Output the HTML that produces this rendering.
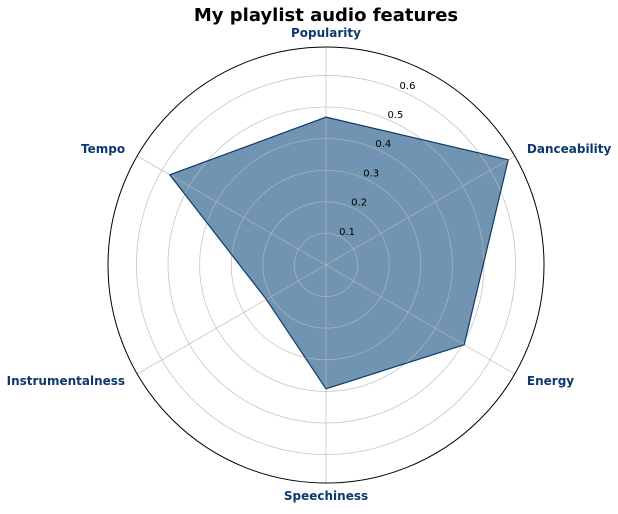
<!DOCTYPE html>
<html><head><meta charset="utf-8"><style>
body{margin:0;background:#fff;font-family:"DejaVu Sans",sans-serif}
</style></head><body>
<svg id="chart" width="618" height="510" xmlns="http://www.w3.org/2000/svg" font-family="DejaVu Sans, sans-serif">
<text x="326" y="21" text-anchor="middle" font-size="18" font-weight="bold">My playlist audio features</text>
<g id="marks"></g><g id="grid"></g><g id="labels"></g>
</svg>
<script>
const categories=["Popularity","Danceability","Energy","Speechiness","Instrumentalness","Tempo"];
const values=[0.468,0.666,0.505,0.392,0.218,0.571];
const rTicks=[0.1,0.2,0.3,0.4,0.5,0.6];
const rMax=0.69;
const cx=326,cy=265,R=218;
const NS="http://www.w3.org/2000/svg";
function rs(v){return v/rMax*R;}
function ang(i){return Math.PI/2-i*2*Math.PI/categories.length;}
function pt(i,v){const a=ang(i);return [cx+rs(v)*Math.cos(a),cy-rs(v)*Math.sin(a)];}
function mk(tag,attrs,parent){const e=document.createElementNS(NS,tag);for(const k in attrs)e.setAttribute(k,attrs[k]);parent.appendChild(e);return e;}
const grid=document.getElementById('grid'),marks=document.getElementById('marks'),labels=document.getElementById('labels');
const pts=values.map((v,i)=>pt(i,v).join(',')).join(' ');
const poly=mk('polygon',{points:pts,fill:'#7094b1',stroke:'none'},marks);


rTicks.forEach(t=>{
 const c=mk('circle',{cx:cx,cy:cy,r:rs(t),fill:'none',stroke:'#b8b8b8','stroke-width':0.8,'stroke-opacity':0.8},grid);
 
 
});
categories.forEach((c,i)=>{
 const p=pt(i,rMax);
 const l=mk('line',{x1:cx,y1:cy,x2:p[0],y2:p[1],stroke:'#b8b8b8','stroke-width':0.8,'stroke-opacity':0.8},grid);
 
 
});
const outline=mk('polygon',{points:pts,fill:'none',stroke:'#0e3a6a','stroke-width':1.2},grid);


const oc=mk('circle',{cx:cx,cy:cy,r:R,fill:'none',stroke:'#000','stroke-width':1},grid);


rTicks.forEach(t=>{
 const a=67.5*Math.PI/180;
 const x=cx+rs(t)*Math.cos(a)+1,y=cy-rs(t)*Math.sin(a)-1;
 const e=mk('text',{x:x,y:y,'font-size':10,fill:'#000'},labels);
 e.textContent=t.toFixed(1);
 
 
});
categories.forEach((c,i)=>{
 const a=ang(i);
 let x=cx+(R+14)*Math.cos(a),y=cy-(R+14)*Math.sin(a)+4;
 let anchor='middle';
 if(Math.cos(a)>0.1){anchor='start';}
 else if(Math.cos(a)<-0.1){anchor='end';}
 if(i===0)y=cy-R-10;
 if(i===3)y=cy+R+17;
 const e=mk('text',{x:x,y:y,'text-anchor':anchor,'font-size':12,'font-weight':'bold',fill:'#0d3a6e'},labels);
 e.textContent=c;
 
 
});
</script>
</body></html>
